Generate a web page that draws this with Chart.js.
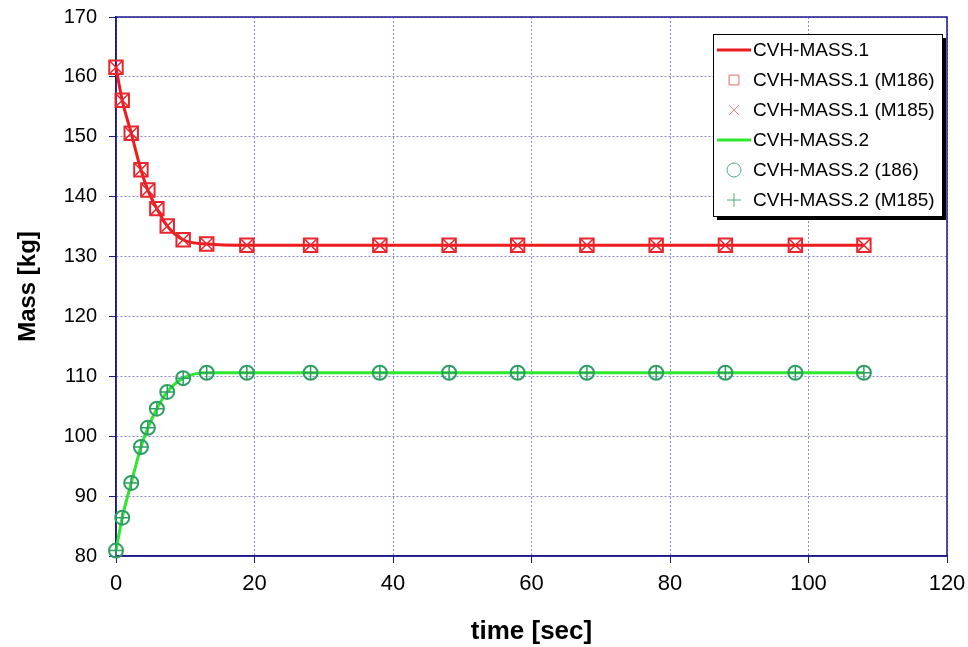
<!DOCTYPE html>
<html>
<head>
<meta charset="utf-8">
<script src="https://cdn.jsdelivr.net/npm/chart.js@4.4.0/dist/chart.umd.min.js"></script>
<style>
  html, body { margin: 0; padding: 0; background: #fff; }
  #wrap { width: 968px; height: 647px; }
</style>
</head>
<body>
<div id="wrap"><canvas id="massChart" width="968" height="647"></canvas></div>
<script>
// Datos
const timeSec = [0, 0.9, 2.2, 3.6, 4.6, 5.9, 7.4, 9.7, 13.1, 18.9, 28.1, 38.1, 48.1, 58.0, 68.0, 78.0, 88.0, 98.1, 108.0];
const mass1 = [161.6, 156.1, 150.6, 144.5, 141.1, 138.0, 135.1, 132.8, 132.1, 131.9, 131.9, 131.9, 131.9, 131.9, 131.9, 131.9, 131.9, 131.9, 131.9];
const mass2 = [80.9, 86.4, 92.2, 98.2, 101.4, 104.6, 107.4, 109.7, 110.6, 110.6, 110.6, 110.6, 110.6, 110.6, 110.6, 110.6, 110.6, 110.6, 110.6];
const mass1M186 = mass1;
const mass1M185 = mass1;
const mass2M186 = mass2;
const mass2M185 = mass2;
const seriesLabels = ["CVH-MASS.1", "CVH-MASS.1 (M186)", "CVH-MASS.1 (M185)", "CVH-MASS.2", "CVH-MASS.2 (186)", "CVH-MASS.2 (M185)"];

const toXY = (ys) => ys.map((y, i) => ({ x: timeSec[i], y: y }));

const RED_LINE = "#ee1c1c";
const RED_MARK = "#e8262e";
const GREEN_LINE = "#2ee82e";
const GREEN_MARK = "#2f9e62";
const NAVY = "#1a1a8c";

// Marco del área del gráfico
const frame = {
  id: "frame",
  beforeDatasetsDraw(chart) {
    const a = chart.chartArea;
    const ctx = chart.ctx;
    ctx.save();
    ctx.strokeStyle = NAVY;
    ctx.lineWidth = 1.5;
    ctx.strokeRect(a.left, a.top, a.right - a.left, a.bottom - a.top);
    ctx.restore();
  }
};

// Leyenda dentro del área
const boxLegend = {
  id: "boxLegend",
  afterDraw(chart) {
    const a = chart.chartArea;
    const ctx = chart.ctx;
    const w = 229, h = 182;
    const x0 = a.right - w - 5, y0 = a.top + 17;
    ctx.save();
    ctx.fillStyle = "#000";
    ctx.fillRect(x0 + 4, y0 + 4, w, h);
    ctx.fillStyle = "#fff";
    ctx.fillRect(x0, y0, w, h);
    ctx.strokeStyle = "#000";
    ctx.lineWidth = 1;
    ctx.strokeRect(x0 + 0.5, y0 + 0.5, w, h);
    ctx.font = "19px 'Liberation Sans', Arial, sans-serif";
    ctx.textBaseline = "middle";
    chart.data.datasets.forEach((ds, i) => {
      const cy = y0 + 16 + i * 30;
      const mx = x0 + 21;
      if (ds.showLine !== false) {
        ctx.strokeStyle = ds.borderColor;
        ctx.lineWidth = 3;
        ctx.beginPath();
        ctx.moveTo(x0 + 4, cy);
        ctx.lineTo(x0 + 38, cy);
        ctx.stroke();
      } else {
        ctx.strokeStyle = ds.legendColor;
        ctx.fillStyle = "rgba(0,0,0,0)";
        ctx.lineWidth = 1;
        Chart.helpers.drawPoint(ctx, { pointStyle: ds.pointStyle, radius: 7, rotation: 0, borderWidth: 1 }, mx, cy);
      }
      ctx.fillStyle = "#000";
      ctx.fillText(ds.label, x0 + 40, cy + 1);
    });
    ctx.restore();
  }
};

const ctx = document.getElementById("massChart").getContext("2d");
new Chart(ctx, {
  type: "line",
  data: {
    datasets: [
      {
        label: seriesLabels[0], data: toXY(mass1),
        borderColor: RED_LINE, borderWidth: 3, pointRadius: 0,
        cubicInterpolationMode: "monotone", order: 2, clip: false
      },
      {
        label: seriesLabels[1], data: toXY(mass1M186), showLine: false,
        pointStyle: "rect", pointRadius: 9.5, borderColor: RED_MARK, backgroundColor: "rgba(0,0,0,0)",
        pointBorderWidth: 2, legendColor: "#e86a6a", order: 1, clip: false
      },
      {
        label: seriesLabels[2], data: toXY(mass1M185), showLine: false,
        pointStyle: "crossRot", pointRadius: 9.5, borderColor: RED_MARK, backgroundColor: "rgba(0,0,0,0)",
        pointBorderWidth: 1.5, legendColor: "#ee8a8a", order: 1, clip: false
      },
      {
        label: seriesLabels[3], data: toXY(mass2),
        borderColor: GREEN_LINE, borderWidth: 3, pointRadius: 0,
        cubicInterpolationMode: "monotone", order: 2, clip: false
      },
      {
        label: seriesLabels[4], data: toXY(mass2M186), showLine: false,
        pointStyle: "circle", pointRadius: 7, borderColor: GREEN_MARK, backgroundColor: "rgba(0,0,0,0)",
        pointBorderWidth: 2, legendColor: "#4caf80", order: 1, clip: false
      },
      {
        label: seriesLabels[5], data: toXY(mass2M185), showLine: false,
        pointStyle: "cross", pointRadius: 7, borderColor: GREEN_MARK, backgroundColor: "rgba(0,0,0,0)",
        pointBorderWidth: 1.5, legendColor: "#4caf80", order: 1, clip: false
      }
    ]
  },
  options: {
    responsive: false,
    animation: false,
    layout: { padding: { top: 17, right: 21, left: 0, bottom: 0 } },
    plugins: {
      legend: { display: false },
      tooltip: { enabled: false }
    },
    scales: {
      x: {
        type: "linear", min: 0, max: 120,
        afterFit(scale) {
          scale.height = 91;
          scale.paddingLeft = 0;
          scale.paddingRight = 0;
        },
        ticks: {
          stepSize: 20, color: "#000", padding: 8,
          font: { family: "'Liberation Sans Narrow', 'Liberation Sans', Arial", size: 22 }
        },
        grid: { color: "#8a8ac8", lineWidth: 1, tickLength: 7, tickColor: NAVY },
        border: { display: true, color: NAVY, width: 1.5, dash: [2, 2] },
        title: {
          display: true, text: "time [sec]", color: "#000",
          font: { family: "'Liberation Sans Narrow', 'Liberation Sans', Arial", size: 26, weight: "bold" },
          padding: { top: 0, bottom: 0 }
        }
      },
      y: {
        type: "linear", min: 80, max: 170,
        afterFit(scale) {
          scale.width = 116;
          scale.paddingTop = 0;
          scale.paddingBottom = 0;
        },
        ticks: {
          stepSize: 10, color: "#000", padding: 12,
          font: { family: "'Liberation Sans', Arial", size: 20 }
        },
        grid: { color: "#8a8ac8", lineWidth: 1, tickLength: 7, tickColor: NAVY },
        border: { display: true, color: NAVY, width: 1.5, dash: [2, 2] },
        title: {
          display: true, text: "Mass [kg]", color: "#000",
          font: { family: "'Liberation Sans', Arial", size: 24, weight: "bold" },
          padding: { top: 14, bottom: 0 }
        }
      }
    }
  },
  plugins: [frame, boxLegend]
});
</script>
</body>
</html>
